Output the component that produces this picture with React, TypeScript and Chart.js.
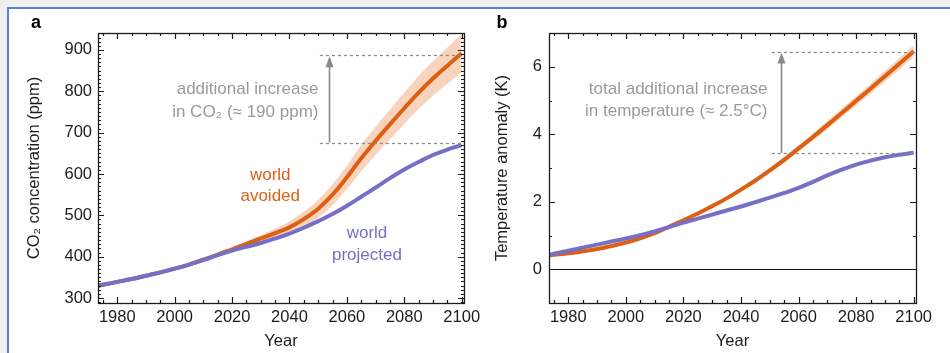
import React, { useEffect, useRef } from 'react';
import { Chart, registerables } from 'chart.js';

Chart.register(...registerables);

// ---------------- DATA ----------------
const years = [1973, 1975, 1980, 1985, 1990, 1995, 2000, 2005, 2010, 2015, 2020, 2025, 2030, 2035, 2040, 2045, 2050, 2055, 2060, 2065, 2070, 2075, 2080, 2085, 2090, 2095, 2100];

const co2Projected = [329, 332, 339, 346, 354, 362, 371, 381, 392, 404, 415, 424, 433, 444, 456, 470, 486, 503, 523, 545, 567, 590, 611, 629, 646, 659, 670];
const co2Avoided = [329, 332, 339, 346, 354, 362, 371, 381, 393, 405, 418, 431, 444, 457, 471, 491, 516, 550, 592, 638, 680, 720, 759, 797, 831, 862, 892];

const bandYears = [2010, 2015, 2020, 2025, 2030, 2035, 2040, 2045, 2050, 2055, 2060, 2065, 2070, 2075, 2080, 2085, 2090, 2095, 2100];
const co2BandUpper = [393, 407, 422, 437, 452, 468, 486, 509, 538, 575, 620, 670, 714, 756, 797, 837, 873, 906, 938];
const co2BandLower = [393, 403, 414, 425, 436, 446, 456, 473, 494, 525, 564, 606, 646, 684, 721, 757, 789, 818, 846];

const tempProjected = [0.42, 0.46, 0.55, 0.64, 0.73, 0.82, 0.91, 1.01, 1.12, 1.25, 1.38, 1.5, 1.62, 1.74, 1.86, 1.99, 2.12, 2.26, 2.41, 2.59, 2.78, 2.95, 3.1, 3.22, 3.32, 3.39, 3.45];
const tempAvoided = [0.41, 0.43, 0.47, 0.53, 0.6, 0.69, 0.79, 0.92, 1.07, 1.26, 1.45, 1.65, 1.87, 2.1, 2.36, 2.63, 2.93, 3.24, 3.58, 3.92, 4.27, 4.63, 4.99, 5.35, 5.72, 6.09, 6.46];
const tempBandUpper = [1.07, 1.27, 1.47, 1.68, 1.91, 2.15, 2.42, 2.7, 3.01, 3.33, 3.68, 4.03, 4.39, 4.76, 5.13, 5.5, 5.88, 6.26, 6.64];
const tempBandLower = [1.07, 1.25, 1.43, 1.62, 1.83, 2.05, 2.3, 2.56, 2.85, 3.15, 3.48, 3.81, 4.15, 4.5, 4.85, 5.2, 5.56, 5.92, 6.28];

const yearTicks = [1980, 2000, 2020, 2040, 2060, 2080, 2100];
const co2Ticks = [300, 400, 500, 600, 700, 800, 900];
const tempTicks = [0, 2, 4, 6];

// annotation values (data units)
const co2Gap = { x0: 2050.6, arrowX: 2053.9, top: 887, bottom: 676 };
const tempGap = { x0: 2050.7, arrowX: 2053.8, top: 6.45, bottom: 3.45 };

// ---------------- STYLE ----------------
const FONT = "'Liberation Sans', Arial, Helvetica, sans-serif";
const ORANGE = '#dc5f14';
const PURPLE = '#766fc6';
const BAND = '#f8d4bd';
const GREY_TXT = '#9a9a9a';
const GREY_LINE = '#8a8a8a';
const INK = '#1c1c1c';

type TextItem = { text: string; x: number; y: number; color: string; align: CanvasTextAlign };
type Spec = {
  label: string;
  labelX: number;
  labelY: number;
  xMajor: number[];
  xMinorStep: number;
  yMajor: number[];
  yMinorStep: number;
  gap: { x0: number; arrowX: number; top: number; bottom: number };
  texts: TextItem[];
  zeroLine: boolean;
};

function makeOverlay(spec: Spec) {
  return {
    id: 'overlay' + spec.label,
    afterDatasetsDraw(chart: any) {
      const { ctx, chartArea: ca } = chart;
      const xs = chart.scales.x;
      const ys = chart.scales.y;
      ctx.save();
      if (spec.zeroLine) {
        const y0 = Math.round(ys.getPixelForValue(0)) + 0.5;
        ctx.strokeStyle = '#111';
        ctx.lineWidth = 1.2;
        ctx.beginPath();
        ctx.moveTo(ca.left, y0);
        ctx.lineTo(ca.right, y0);
        ctx.stroke();
      }
      // dashed reference lines
      const gx = xs.getPixelForValue(spec.gap.x0);
      ctx.setLineDash([3, 3]);
      ctx.strokeStyle = GREY_LINE;
      ctx.lineWidth = 1.3;
      [spec.gap.top, spec.gap.bottom].forEach((v) => {
        const py = Math.round(ys.getPixelForValue(v)) + 0.5;
        ctx.beginPath();
        ctx.moveTo(gx, py);
        ctx.lineTo(ca.right, py);
        ctx.stroke();
      });
      ctx.setLineDash([]);
      // arrow
      const ax = Math.round(xs.getPixelForValue(spec.gap.arrowX)) + 0.5;
      const ay0 = ys.getPixelForValue(spec.gap.bottom);
      const ay1 = ys.getPixelForValue(spec.gap.top);
      ctx.strokeStyle = GREY_LINE;
      ctx.lineWidth = 1.6;
      ctx.beginPath();
      ctx.moveTo(ax, ay0);
      ctx.lineTo(ax, ay1 + 8);
      ctx.stroke();
      ctx.fillStyle = GREY_LINE;
      ctx.beginPath();
      ctx.moveTo(ax, ay1 + 1);
      ctx.lineTo(ax - 4, ay1 + 12);
      ctx.lineTo(ax + 4, ay1 + 12);
      ctx.closePath();
      ctx.fill();
      // texts
      ctx.font = `17px ${FONT}`;
      ctx.textBaseline = 'middle';
      spec.texts.forEach((t) => {
        ctx.fillStyle = t.color;
        ctx.textAlign = t.align;
        ctx.fillText(t.text, xs.getPixelForValue(t.x), ys.getPixelForValue(t.y));
      });
      ctx.restore();
    },
    afterDraw(chart: any) {
      const { ctx, chartArea: ca } = chart;
      const xs = chart.scales.x;
      const ys = chart.scales.y;
      ctx.save();
      ctx.strokeStyle = INK;
      ctx.lineWidth = 1.3;
      ctx.strokeRect(Math.round(ca.left) + 0.5, Math.round(ca.top) + 0.5, Math.round(ca.right - ca.left), Math.round(ca.bottom - ca.top));
      ctx.lineWidth = 1.2;
      const MAJ = 6;
      const MIN = 3;
      // x ticks
      const xMin = xs.min;
      const xMax = xs.max;
      for (let v = Math.ceil(xMin / spec.xMinorStep) * spec.xMinorStep; v <= xMax + 1e-9; v += spec.xMinorStep) {
        const len = spec.xMajor.includes(v) ? MAJ : MIN;
        const px = Math.round(xs.getPixelForValue(v)) + 0.5;
        ctx.beginPath();
        ctx.moveTo(px, ca.bottom);
        ctx.lineTo(px, ca.bottom - len);
        ctx.moveTo(px, ca.top);
        ctx.lineTo(px, ca.top + len);
        ctx.stroke();
      }
      const yMin = ys.min;
      const yMax = ys.max;
      const n0 = Math.ceil(yMin / spec.yMinorStep);
      const n1 = Math.floor(yMax / spec.yMinorStep);
      for (let n = n0; n <= n1; n++) {
        const v = n * spec.yMinorStep;
        const len = spec.yMajor.some((m) => Math.abs(m - v) < 1e-6) ? MAJ : MIN;
        const py = Math.round(ys.getPixelForValue(v)) + 0.5;
        ctx.beginPath();
        ctx.moveTo(ca.left, py);
        ctx.lineTo(ca.left + len, py);
        ctx.moveTo(ca.right, py);
        ctx.lineTo(ca.right - len, py);
        ctx.stroke();
      }
      // panel label
      ctx.fillStyle = '#000';
      ctx.font = `bold 18px ${FONT}`;
      ctx.textAlign = 'center';
      ctx.textBaseline = 'middle';
      ctx.fillText(spec.label, spec.labelX, spec.labelY);
      ctx.restore();
    },
  };
}

function pts(xv: number[], yv: number[]) {
  return xv.map((x, i) => ({ x, y: yv[i] }));
}

type PanelCfg = {
  width: number;
  padRight: number;
  yWidth: number;
  yMin: number;
  yMax: number;
  yTicks: number[];
  yTitle: string;
  yTitlePad: number;
  tickPadY: number;
  projected: number[];
  avoided: number[];
  bandUpper: number[];
  bandLower: number[];
  spec: Spec;
};

function buildConfig(p: PanelCfg): any {
  const tickFont = { family: FONT, size: 16.5 };
  const titleFont = { family: FONT, size: 16.5 };
  return {
    type: 'line',
    data: {
      datasets: [
        { data: pts(bandYears, p.bandUpper), borderWidth: 0, backgroundColor: BAND, pointRadius: 0, fill: false, order: 4 },
        { data: pts(bandYears, p.bandLower), borderWidth: 0, backgroundColor: BAND, pointRadius: 0, fill: '-1', order: 3 },
        { data: pts(years, p.avoided), borderColor: ORANGE, borderWidth: 4, pointRadius: 0, fill: false, order: 2 },
        { data: pts(years, p.projected), borderColor: PURPLE, borderWidth: 4, pointRadius: 0, fill: false, order: 1 },
      ],
    },
    options: {
      animation: false,
      responsive: false,
      maintainAspectRatio: false,
      events: [],
      layout: { padding: { left: 0, top: 33, right: p.padRight, bottom: 0 } },
      elements: { line: { tension: 0.4, borderCapStyle: 'butt' }, point: { radius: 0 } },
      plugins: { legend: { display: false }, tooltip: { enabled: false } },
      scales: {
        x: {
          type: 'linear',
          min: 1973.3,
          max: 2100.8,
          grid: { display: false, drawTicks: false },
          border: { display: false },
          afterBuildTicks: (s: any) => {
            s.ticks = yearTicks.map((v) => ({ value: v }));
          },
          afterFit: (s: any) => {
            s.height = 50;
          },
          ticks: { font: tickFont, color: INK, padding: 5, maxRotation: 0, autoSkip: false, callback: (v: any) => String(v) },
          title: { display: true, text: 'Year', font: titleFont, color: INK, padding: { top: 0, bottom: 2 } },
        },
        y: {
          type: 'linear',
          min: p.yMin,
          max: p.yMax,
          grid: { display: false, drawTicks: false },
          border: { display: false },
          afterBuildTicks: (s: any) => {
            s.ticks = p.yTicks.map((v) => ({ value: v }));
          },
          afterFit: (s: any) => {
            s.width = p.yWidth;
          },
          ticks: { font: tickFont, color: INK, padding: p.tickPadY, autoSkip: false, callback: (v: any) => String(v) },
          title: { display: true, text: p.yTitle, font: titleFont, color: INK, padding: { top: p.yTitlePad, bottom: 0 } },
        },
      },
    },
    plugins: [makeOverlay(p.spec)],
  };
}

const panelA: PanelCfg = {
  width: 500,
  padRight: 36,
  yWidth: 98,
  yMin: 288,
  yMax: 941,
  yTicks: co2Ticks,
  yTitle: 'CO\u2082 concentration (ppm)',
  yTitlePad: 25,
  tickPadY: 6,
  projected: co2Projected,
  avoided: co2Avoided,
  bandUpper: co2BandUpper,
  bandLower: co2BandLower,
  spec: {
    label: 'a',
    labelX: 36,
    labelY: 23,
    xMajor: yearTicks,
    xMinorStep: 5,
    yMajor: co2Ticks,
    yMinorStep: 10,
    gap: co2Gap,
    zeroLine: false,
    texts: [
      { text: 'additional increase', x: 2050.1, y: 806, color: GREY_TXT, align: 'right' },
      { text: 'in CO\u2082 (\u2248 190 ppm)', x: 2050.1, y: 750, color: GREY_TXT, align: 'right' },
      { text: 'world', x: 2033.3, y: 598, color: ORANGE, align: 'center' },
      { text: 'avoided', x: 2033.3, y: 545, color: ORANGE, align: 'center' },
      { text: 'world', x: 2067, y: 457, color: PURPLE, align: 'center' },
      { text: 'projected', x: 2067, y: 404, color: PURPLE, align: 'center' },
    ],
  },
};

const panelB: PanelCfg = {
  width: 475,
  padRight: 34,
  yWidth: 74,
  yMin: -1,
  yMax: 7,
  yTicks: tempTicks,
  yTitle: 'Temperature anomaly (K)',
  yTitlePad: 18,
  tickPadY: 7,
  projected: tempProjected,
  avoided: tempAvoided,
  bandUpper: tempBandUpper,
  bandLower: tempBandLower,
  spec: {
    label: 'b',
    labelX: 27,
    labelY: 23,
    xMajor: yearTicks,
    xMinorStep: 5,
    yMajor: tempTicks,
    yMinorStep: 1,
    gap: tempGap,
    zeroLine: true,
    texts: [
      { text: 'total additional increase', x: 2049.2, y: 5.34, color: GREY_TXT, align: 'right' },
      { text: 'in temperature (\u2248 2.5\u00B0C)', x: 2049.2, y: 4.68, color: GREY_TXT, align: 'right' },
    ],
  },
};

function Panel({ cfg, left }: { cfg: PanelCfg; left: number }) {
  const ref = useRef<HTMLCanvasElement | null>(null);
  useEffect(() => {
    if (!ref.current) return;
    const chart = new Chart(ref.current, buildConfig(cfg));
    return () => chart.destroy();
  }, [cfg]);
  return (
    <canvas
      ref={ref}
      width={cfg.width}
      height={353}
      style={{ position: 'absolute', left, top: 0, width: cfg.width, height: 353 }}
    />
  );
}

export default function App() {
  return (
    <div style={{ position: 'fixed', left: 0, top: 0, width: 950, height: 353, background: '#efefef', overflow: 'hidden' }}>
      <div
        style={{
          position: 'absolute',
          left: 7,
          top: 7,
          width: 980,
          height: 380,
          background: '#ffffff',
          borderLeft: '2px solid #5483d6',
          borderTop: '2px solid #5483d6',
        }}
      />
      <Panel cfg={panelA} left={0} />
      <Panel cfg={panelB} left={475} />
    </div>
  );
}
